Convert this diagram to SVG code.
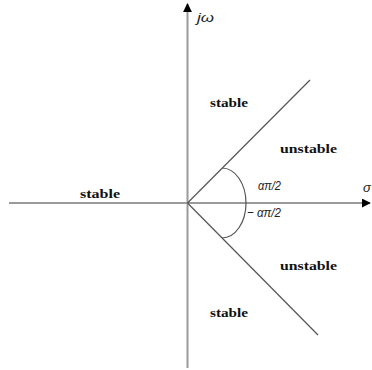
<svg xmlns="http://www.w3.org/2000/svg" width="372" height="370" viewBox="0 0 372 370">
<style>
.axis{stroke:#9a9a9a;stroke-width:2;fill:none}
.ray{stroke:#555;stroke-width:1.2;fill:none}
.lbl{font-family:"Liberation Serif",serif;font-weight:bold;font-size:12px;fill:#111}
.math{font-family:"Liberation Sans",sans-serif;font-style:italic;font-size:13px;fill:#222}
</style>
<defs>
<marker id="ah" viewBox="0 0 10 10" refX="9" refY="5" markerWidth="9" markerHeight="9" markerUnits="userSpaceOnUse" orient="auto">
<path d="M0,0 L10,5 L0,10 Z" fill="#000"/>
</marker>
</defs>
<g id="connectors">
<line class="axis" x1="9" y1="203" x2="370" y2="203" marker-end="url(#ah)"/>
<line class="axis" x1="187.5" y1="368" x2="187.5" y2="4" marker-end="url(#ah)"/>
<line class="ray" x1="187.5" y1="203" x2="310" y2="80"/>
<line class="ray" x1="187.5" y1="203" x2="318" y2="335"/>
<path class="ray" d="M222,168 A24 35 0 0 1 222,238" stroke="#333"/>
</g>
<g id="labels">
<text class="math" x="197" y="22" textLength="17" lengthAdjust="spacingAndGlyphs">jω</text>
<text class="math" x="363" y="192">σ</text>
<text class="math" x="258" y="190" textLength="23" lengthAdjust="spacingAndGlyphs">απ/2</text>
<text class="math" x="247" y="217" textLength="34" lengthAdjust="spacingAndGlyphs">− απ/2</text>
<text class="lbl" x="210" y="107" textLength="38" lengthAdjust="spacingAndGlyphs">stable</text>
<text class="lbl" x="280" y="153" textLength="57" lengthAdjust="spacingAndGlyphs">unstable</text>
<text class="lbl" x="80" y="198" textLength="40" lengthAdjust="spacingAndGlyphs">stable</text>
<text class="lbl" x="280" y="270" textLength="57" lengthAdjust="spacingAndGlyphs">unstable</text>
<text class="lbl" x="210" y="317" textLength="38" lengthAdjust="spacingAndGlyphs">stable</text>
</g>
</svg>
